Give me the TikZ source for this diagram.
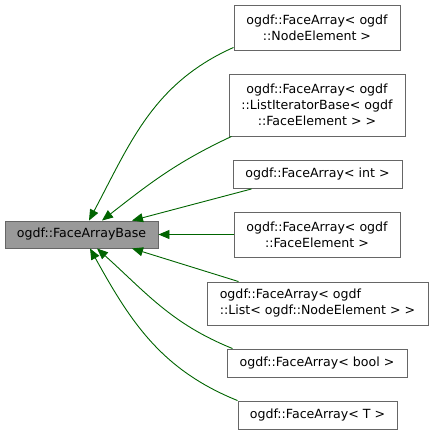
\documentclass[tikz,border=0pt]{standalone}
\usepackage{fontspec}
\setmainfont{DejaVu Sans}
\usepackage{tikz}
\usetikzlibrary{arrows.meta,positioning}
\definecolor{edgegreen}{HTML}{006400}
\definecolor{boxline}{HTML}{666666}
\definecolor{basefill}{HTML}{999999}
\tikzset{cls/.style={draw=boxline,line width=.9pt,fill=white,align=center,font=\fontsize{12.6}{16}\selectfont,inner sep=0pt},basecls/.style={cls,fill=basefill},inh/.style={-{Triangle[length=11pt,width=9pt]},edgegreen,line width=.9pt}}
\begin{document}
\begin{tikzpicture}[x=1pt,y=1pt]
\useasboundingbox (0,0) rectangle (433,-435);
\node[basecls,minimum width=153pt,minimum height=27pt] (base) at (81.5,-234.5) {ogdf::FaceArrayBase};
\node[cls,minimum width=166pt,minimum height=45pt] (node) at (317,-27.5) {ogdf::FaceArray< ogdf\\::NodeElement >};
\node[cls,minimum width=176pt,minimum height=62pt] (iter) at (317,-105) {ogdf::FaceArray< ogdf\\::ListIteratorBase< ogdf\\::FaceElement > >};
\node[cls,minimum width=169pt,minimum height=28pt] (int) at (317.5,-174.5) {ogdf::FaceArray< int >};
\node[cls,minimum width=166pt,minimum height=45pt] (face) at (317,-234.5) {ogdf::FaceArray< ogdf\\::FaceElement >};
\node[cls,align=left,minimum width=221pt,minimum height=43pt] (list) at (317.5,-303.5) {ogdf::FaceArray< ogdf\\::List< ogdf::NodeElement > >};
\node[cls,minimum width=180pt,minimum height=28pt] (bool) at (317,-363) {ogdf::FaceArray< bool >};
\node[cls,minimum width=159pt,minimum height=28pt] (tmpl) at (317.5,-415) {ogdf::FaceArray< T >};
\draw[inh] ([yshift=3pt]node.south west) to[out=204,in=62] ([xshift=7.5pt]base.north);
\draw[inh] ([xshift=3pt]iter.south west) to[out=205,in=38] ([xshift=20.5pt]base.north);
\draw[inh] ([xshift=19pt]int.south west) -- ([xshift=50.5pt]base.north);
\draw[inh] (face.west) -- (base.east);
\draw[inh] ([xshift=32pt]list.north west) -- ([xshift=50.5pt]base.south);
\draw[inh] ([xshift=6pt]bool.north west) to[out=158,in=-42] ([xshift=15.5pt]base.south);
\draw[inh] (tmpl.north west) to[out=158,in=-61] ([xshift=8.5pt]base.south);
\end{tikzpicture}
\end{document}
